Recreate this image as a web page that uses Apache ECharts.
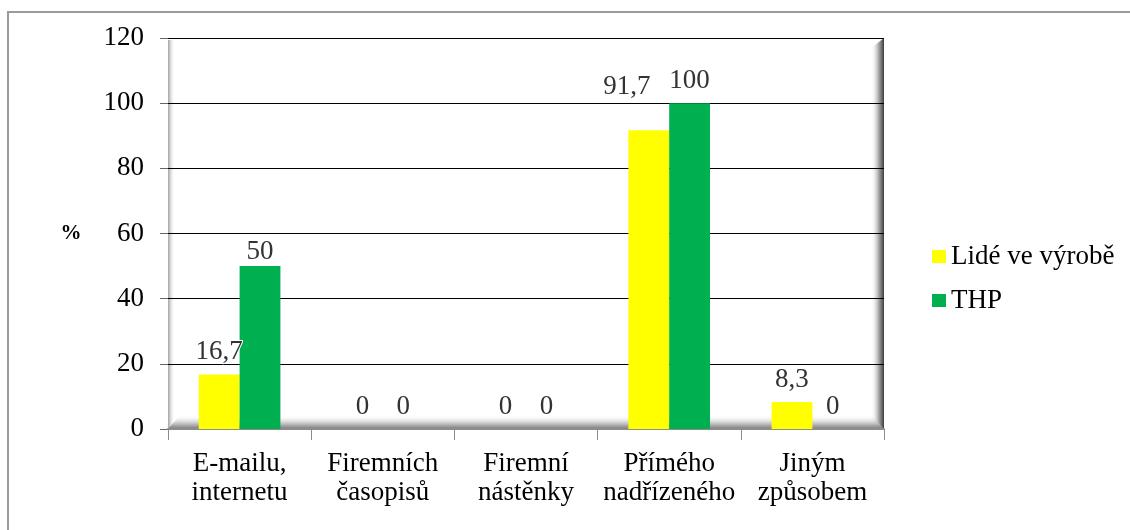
<!DOCTYPE html>
<html>
<head>
<meta charset="utf-8">
<script src="https://cdn.jsdelivr.net/npm/echarts@6/dist/echarts.min.js"></script>
<style>
  html, body { margin: 0; padding: 0; background: #fff; }
  #chart { width: 1130px; height: 530px; background: #fff; }
</style>
</head>
<body>
<div id="chart"></div>
<script>
// Ways employees receive information (%)
const categories = ['E-mailu,\ninternetu', 'Firemních\nčasopisů', 'Firemní\nnástěnky', 'Přímého\nnadřízeného', 'Jiným\nzpůsobem'];
const seriesNames = ['Lidé ve výrobě', 'THP'];
const vyroba = [16.7, 0, 0, 91.7, 8.3];
const thp = [50, 0, 0, 100, 0];
const yTicks = { min: 0, max: 120, interval: 20 };

const SERIF = 'Liberation Serif';
const G = { left: 168, top: 38, right: 246, bottom: 101 };
const W = 1130, H = 530;
const gx0 = G.left, gy0 = G.top, gx1 = W - G.right, gy1 = H - G.bottom;

const fmt = v => String(v).replace('.', ',');

// label tweaks for a couple of bars whose labels sit off the default spot
function withLabels(values, tweaks) {
  return values.map((v, i) => {
    const t = tweaks[i];
    return t ? { value: v, label: { offset: t } } : v;
  });
}

const valueLabel = {
  show: true, position: 'top', distance: 9,
  fontFamily: SERIF, fontSize: 27,
  formatter: p => fmt(p.value)
};

const chart = echarts.init(document.getElementById('chart'));

const option = {
  animation: false,
  color: ['#FFFF00', '#00B050'],
  grid: { left: G.left, top: G.top, right: G.right, bottom: G.bottom },
  legend: {
    orient: 'vertical',
    left: 927,
    top: 238,
    itemWidth: 14,
    itemHeight: 13,
    itemGap: 17,
    icon: 'rect',
    textStyle: { fontFamily: SERIF, fontSize: 27, color: '#000' },
    data: seriesNames
  },
  xAxis: {
    type: 'category',
    data: categories,
    axisLine: { show: true, lineStyle: { color: '#8c8c8c', width: 2 } },
    axisTick: { show: true, length: 11, lineStyle: { color: '#8c8c8c', width: 1 } },
    axisLabel: { interval: 0, fontFamily: SERIF, fontSize: 27, color: '#000', lineHeight: 29, margin: 20 },
    z: 3
  },
  yAxis: {
    type: 'value',
    min: yTicks.min,
    max: yTicks.max,
    interval: yTicks.interval,
    name: '%',
    nameLocation: 'middle',
    nameRotate: 0,
    nameGap: 97,
    nameTextStyle: { fontFamily: SERIF, fontSize: 21, fontWeight: 'bold', color: '#000', align: 'center', verticalAlign: 'middle', padding: [8, 0, 0, 0] },
    axisLine: { show: false },
    axisTick: { show: true, length: 8, lineStyle: { color: '#666', width: 1 } },
    axisLabel: { fontFamily: SERIF, fontSize: 27, color: '#000', margin: 24 },
    splitLine: { show: true, lineStyle: { color: '#000', width: 1 } }
  },
  series: [
    {
      name: seriesNames[0],
      type: 'bar',
      data: withLabels(vyroba, { 3: [-22, -21] }),
      barGap: '0%',
      barCategoryGap: '43%',
      z: 4,
      label: valueLabel
    },
    {
      name: seriesNames[1],
      type: 'bar',
      data: withLabels(thp, { 0: [0, 8] }),
      barGap: '0%',
      barCategoryGap: '43%',
      z: 4,
      label: valueLabel
    }
  ],
  graphic: [
    // outer chart frame
    { type: 'rect', z: -10, silent: true,
      shape: { x: 8, y: 12, width: 1200, height: 600 },
      style: { fill: 'transparent', stroke: '#9a9a9a', lineWidth: 2 } },
    // inner bevel of the plot area: left edge
    { type: 'rect', z: -5, silent: true,
      shape: { x: gx0, y: gy0 + 2, width: 7, height: gy1 - gy0 - 2 },
      style: { fill: new echarts.graphic.LinearGradient(0, 0, 1, 0, [
        { offset: 0, color: 'rgba(150,150,150,0.9)' },
        { offset: 1, color: 'rgba(255,255,255,0)' }]) } },
    // right edge shadow
    { type: 'polygon', z: -5, silent: true,
      shape: { points: [[gx1 - 13, gy0 + 10], [gx1, gy0], [gx1, gy1], [gx1 - 13, gy1]] },
      style: { fill: new echarts.graphic.LinearGradient(0, 0, 1, 0, [
        { offset: 0, color: 'rgba(255,255,255,0)' },
        { offset: 0.55, color: 'rgba(170,170,170,0.9)' },
        { offset: 1, color: 'rgba(60,60,60,1)' }]) } },
    // bottom edge shadow
    { type: 'polygon', z: -5, silent: true,
      shape: { points: [[gx0 + 12, gy1 - 14], [gx1 - 13, gy1 - 14], [gx1, gy1], [gx0, gy1]] },
      style: { fill: new echarts.graphic.LinearGradient(0, 0, 0, 1, [
        { offset: 0, color: 'rgba(255,255,255,0)' },
        { offset: 0.6, color: 'rgba(190,190,190,0.9)' },
        { offset: 1, color: 'rgba(120,120,120,1)' }]) } }
  ]
};

chart.setOption(option);
</script>
</body>
</html>
